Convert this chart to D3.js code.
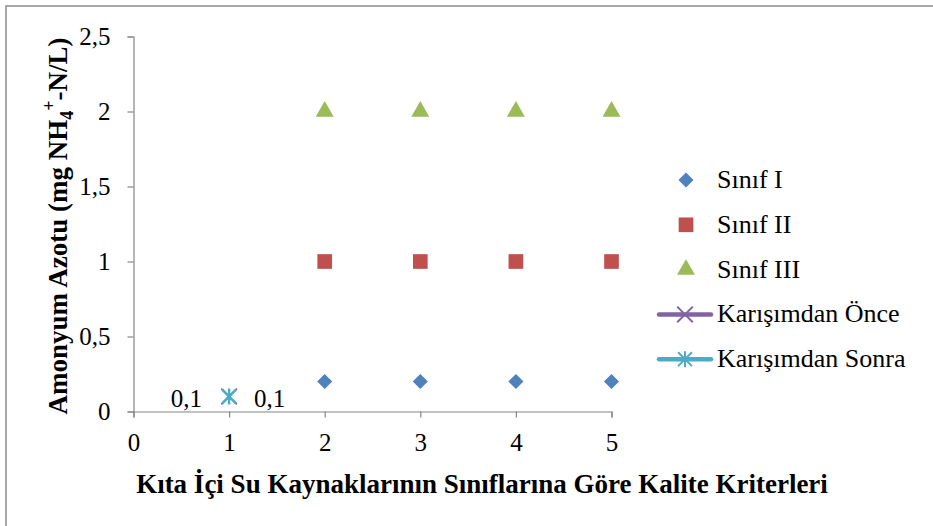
<!DOCTYPE html>
<html>
<head>
<meta charset="utf-8">
<script src="https://cdn.jsdelivr.net/npm/d3@7"></script>
<style>
  body { margin: 0; background: #fff; }
  svg text { font-family: "Liberation Serif", "Times New Roman", "DejaVu Serif", serif; fill: #000; }
</style>
</head>
<body>
<svg id="chart"></svg>
<script>
// data
const classX = [2, 3, 4, 5];
const sinifI = [0.2, 0.2, 0.2, 0.2];
const sinifII = [1, 1, 1, 1];
const sinifIII = [2, 2, 2, 2];
const onceX = [1];
const onceY = [0.1];
const sonraX = [1];
const sonraY = [0.1];
const xTicks = [0, 1, 2, 3, 4, 5];
const yTicks = [0, 0.5, 1, 1.5, 2, 2.5];
const legendNames = ["Sınıf I", "Sınıf II", "Sınıf III", "Karışımdan Önce", "Karışımdan Sonra"];

const w = 933, h = 526;
const serif = "'Liberation Serif', 'Times New Roman', serif";
const svg = d3.select("#chart").attr("width", w).attr("height", h);

// chart border
svg.append("rect")
   .attr("x", 6).attr("y", 6)
   .attr("width", w).attr("height", h)
   .attr("fill", "#fff")
   .attr("stroke", "#8c8c8c")
   .attr("stroke-width", 1.5);

const xScale = d3.scaleLinear().domain([0, 5]).range([133.5, 611.5]);
const yScale = d3.scaleLinear().domain([0, 2.5]).range([411.5, 36.5]);

const fmt = d3.formatLocale({ decimal: ",", thousands: ".", grouping: [3], currency: ["", ""] }).format(".1~f");
const axisColor = "#868686";

const xAxis = svg.append("g")
   .attr("transform", `translate(0, ${yScale(0)})`)
   .call(d3.axisBottom(xScale).tickValues(xTicks).tickFormat(fmt).tickSize(6).tickPadding(16));
const yAxis = svg.append("g")
   .attr("transform", `translate(${xScale(0)}, 0)`)
   .call(d3.axisLeft(yScale).tickValues(yTicks).tickFormat(fmt).tickSize(6).tickPadding(17));

[xAxis, yAxis].forEach(g => {
  g.attr("font-family", null).attr("font-size", null);
  g.select(".domain").attr("stroke", axisColor).attr("stroke-width", 1.2);
  g.selectAll(".tick line").attr("stroke", axisColor).attr("stroke-width", 1.2);
  g.selectAll(".tick text")
   .style("font-family", serif)
   .style("font-size", "25px")
   .attr("fill", "#000");
});

const colors = ["#4F81BD", "#C0504D", "#9BBB59", "#8064A2", "#4BACC6"];

// Excel style star: an X with a vertical stroke through it
const excelStar = {
  draw(ctx, size) {
    const r = Math.sqrt(size) / 2;
    ctx.moveTo(-r, -r); ctx.lineTo(r, r);
    ctx.moveTo(r, -r); ctx.lineTo(-r, r);
    ctx.moveTo(0, -r * 1.15); ctx.lineTo(0, r * 1.15);
  }
};

const diamond = d3.symbol().type(d3.symbolDiamond2).size(145);
const square = d3.symbol().type(d3.symbolSquare).size(215);
const triangle = d3.symbol().type(d3.symbolTriangle).size(140);
const cross = d3.symbol().type(d3.symbolX).size(160);
const star = d3.symbol().type(excelStar).size(190);

function drawPoints(xs, ys, path, color, cls) {
  svg.selectAll("path." + cls)
     .data(xs.map((x, i) => [x, ys[i]]))
     .join("path")
     .attr("class", cls)
     .attr("transform", d => `translate(${xScale(d[0])}, ${yScale(d[1])})`)
     .attr("d", path)
     .attr("fill", color);
}

function drawStars(xs, ys, path, color, cls) {
  svg.selectAll("path." + cls)
     .data(xs.map((x, i) => [x, ys[i]]))
     .join("path")
     .attr("class", cls)
     .attr("transform", d => `translate(${xScale(d[0])}, ${yScale(d[1])})`)
     .attr("d", path)
     .attr("fill", "none")
     .attr("stroke", color)
     .attr("stroke-width", cls === "s5" ? 2.4 : 1.8);
}

drawPoints(classX, sinifI, diamond, colors[0], "s1");
drawPoints(classX, sinifII, square, colors[1], "s2");
drawPoints(classX, sinifIII, triangle, colors[2], "s3");
drawStars(onceX, onceY, cross, colors[3], "s4");
drawStars(sonraX, sonraY, star, colors[4], "s5");

// data labels
svg.selectAll("text.lblL")
   .data(onceX.map((x, i) => [x, onceY[i]]))
   .join("text")
   .attr("class", "lblL")
   .attr("x", d => xScale(d[0]) - 27)
   .attr("y", d => yScale(d[1]) + 10)
   .attr("text-anchor", "end")
   .style("font-size", "25px")
   .text(d => fmt(d[1]));
svg.selectAll("text.lblR")
   .data(sonraX.map((x, i) => [x, sonraY[i]]))
   .join("text")
   .attr("class", "lblR")
   .attr("x", d => xScale(d[0]) + 25)
   .attr("y", d => yScale(d[1]) + 10)
   .attr("text-anchor", "start")
   .style("font-size", "25px")
   .text(d => fmt(d[1]));

// axis titles
svg.append("text")
   .attr("x", 482).attr("y", 493)
   .attr("text-anchor", "middle")
   .style("font-size", "27px")
   .style("font-weight", "bold")
   .text("Kıta İçi Su Kaynaklarının Sınıflarına Göre Kalite Kriterleri");

const yTitle = svg.append("text")
   .attr("transform", "translate(67, 226) rotate(-90)")
   .attr("text-anchor", "middle")
   .style("font-size", "27px")
   .style("font-weight", "bold");
yTitle.append("tspan").text("Amonyum Azotu (mg NH");
yTitle.append("tspan").style("font-size", "18px").attr("dy", 6).text("4");
yTitle.append("tspan").style("font-size", "18px").attr("dy", -18).text("+");
yTitle.append("tspan").attr("dy", 12).text("-N/L)");

// legend
const legendShapes = [diamond, square, triangle, cross, star];
const legend = svg.append("g");
legendNames.forEach((name, i) => {
  const y = 180 + i * 44.8;
  const g = legend.append("g").attr("transform", `translate(0, ${y})`);
  if (i >= 3) {
    g.append("line")
     .attr("x1", 659).attr("x2", 711)
     .attr("stroke", colors[i]).attr("stroke-width", 4.5)
     .attr("stroke-linecap", "round");
    g.append("path")
     .attr("transform", "translate(685, 0)")
     .attr("d", legendShapes[i])
     .attr("fill", "none")
     .attr("stroke", colors[i])
     .attr("stroke-width", 2);
  } else {
    g.append("path")
     .attr("transform", "translate(686, 0)")
     .attr("d", legendShapes[i])
     .attr("fill", colors[i]);
  }
  g.append("text")
   .attr("x", 717)
   .attr("y", 8)
   .style("font-size", "26px")
   .text(name);
});
</script>
</body>
</html>
